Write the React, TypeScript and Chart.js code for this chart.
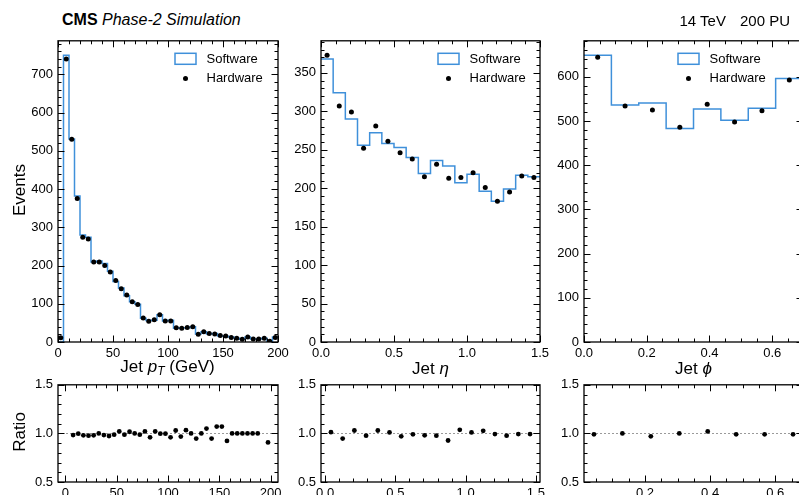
import React, { useEffect, useRef } from "react";
import { Chart, registerables } from "chart.js";

Chart.register(...registerables);

const FONT = "'Liberation Sans', Arial, Helvetica, sans-serif";
const BLUE = "#3f90da";
Chart.defaults.font.family = FONT;

// ---------------- data ----------------
// Jet pT (GeV), 5 GeV bins
const ptEdges = [0, 5, 10, 15, 20, 25, 30, 35, 40, 45, 50, 55, 60, 65, 70, 75, 80, 85, 90, 95, 100,
  105, 110, 115, 120, 125, 130, 135, 140, 145, 150, 155, 160, 165, 170, 175, 180, 185, 190, 195, 200];
const ptSoftware = [0, 750, 531, 382, 280, 274, 209, 212, 205, 185, 158, 141, 121, 105, 99, 62, 56, 57, 71, 55,
  57, 36, 37, 37, 40, 21, 27, 21, 22, 16, 15, 13, 10, 7, 13, 8, 8, 10, 0, 13];
const ptHardware = [11, 740, 530, 375, 274, 269, 209, 209, 200, 183, 161, 139, 123, 105, 98, 63, 54, 58, 71, 55,
  55, 37, 36, 38, 40, 20, 27, 22, 21, 17, 16, 12, 10, 7, 13, 8, 8, 10, 2, 12];
const ptRatio: (number | null)[] = [null, 0.983, 0.997, 0.98, 0.977, 0.98, 1.0, 0.983, 0.973, 0.987, 1.02, 0.987,
  1.017, 1.0, 0.987, 1.02, 0.96, 1.02, 0.997, 0.997, 0.96, 1.03, 0.967, 1.033, 1.0, 0.947, 1.0, 1.05, 0.947,
  1.07, 1.07, 0.923, 1.0, 1.0, 1.0, 1.0, 1.0, 1.0, null, 0.907];

// Jet eta
const etaEdges = [0, 0.0833, 0.1667, 0.25, 0.3333, 0.4167, 0.5, 0.5833, 0.6667, 0.75, 0.8333, 0.9167, 1.0,
  1.0833, 1.1667, 1.25, 1.3333, 1.4167, 1.5];
const etaSoftware = [368, 324, 290, 256, 272, 258, 253, 240, 219, 236, 229, 207, 218, 196, 183, 199, 217, 215];
const etaHardware = [373, 307, 299, 252, 281, 261, 246, 238, 215, 231, 213, 214, 220, 201, 183, 195, 216, 214];
const etaRatio = [1.013, 0.947, 1.03, 0.977, 1.03, 1.01, 0.97, 0.99, 0.98, 0.977, 0.927, 1.037, 1.01, 1.027,
  0.993, 0.977, 0.993, 0.993];

// Jet phi
const phiEdges = [0, 0.0873, 0.1745, 0.2618, 0.3491, 0.4363, 0.5236, 0.6109, 0.6981];
const phiSoftware = [649, 536, 541, 483, 527, 502, 529, 596];
const phiHardware = [644, 534, 525, 486, 538, 498, 523, 593];
const phiRatio = [0.99, 1.0, 0.97, 1.0, 1.02, 0.99, 0.99, 0.99];

// axis ranges / ticks
const ptYMax = 787.5;
const etaYMax = 391.7;
const phiYMax = 681.5;

// ---------------- helpers ----------------
const PAD_L = 52;
const PAD_T = 10;
const PAD_R = 18;
const PAD_B = 26;

function stepPoints(edges: number[], vals: number[]) {
  const pts = vals.map((v, i) => ({ x: edges[i], y: v }));
  pts.push({ x: edges[edges.length - 1], y: vals[vals.length - 1] });
  return pts;
}
function centers(edges: number[]) {
  return edges.slice(0, -1).map((e, i) => (e + edges[i + 1]) / 2);
}
function dotPoints(edges: number[], vals: (number | null)[]) {
  const c = centers(edges);
  return vals
    .map((v, i) => ({ x: c[i], y: v }))
    .filter((p) => p.y !== null) as { x: number; y: number }[];
}
function marginRange(edges: number[]) {
  const c = centers(edges);
  const lo = c[0];
  const hi = c[c.length - 1];
  const m = 0.05 * (hi - lo);
  return [lo - m, hi + m];
}

type Spec = {
  x: number; y: number; w: number; h: number;
  xMin: number; xMax: number; xMajor: number; xMinor: number; xDec: number;
  yMin: number; yMax: number; yMajor: number; yMinor: number; yDec: number;
  datasets: any[];
  legendFromRight?: number;
  refLine?: number;
};

function fmt(v: number, d: number) {
  return d > 0 ? Number(v).toFixed(d) : String(Math.round(v));
}

function makePlugin(s: Spec) {
  return {
    id: "decor",
    beforeDatasetsDraw(chart: any) {
      if (s.refLine === undefined) return;
      const { ctx, chartArea: a, scales } = chart;
      const py = Math.round(scales.y.getPixelForValue(s.refLine)) + 0.5;
      ctx.save();
      ctx.strokeStyle = "#9a9a9a";
      ctx.lineWidth = 1;
      ctx.setLineDash([2, 2]);
      ctx.beginPath();
      ctx.moveTo(a.left, py);
      ctx.lineTo(a.right, py);
      ctx.stroke();
      ctx.restore();
    },
    afterDatasetsDraw(chart: any) {
      const { ctx, chartArea: a, scales } = chart;
      const xs = scales.x;
      const ys = scales.y;
      ctx.save();
      ctx.strokeStyle = "#000";
      ctx.lineWidth = 1;
      const isMajor = (v: number, major: number) => Math.abs(v / major - Math.round(v / major)) < 1e-6;
      // x ticks
      const kx0 = Math.ceil(xs.min / s.xMinor - 1e-9);
      const kx1 = Math.floor(xs.max / s.xMinor + 1e-9);
      for (let k = kx0; k <= kx1; k++) {
        const v = k * s.xMinor;
        const len = isMajor(v, s.xMajor) ? 6.5 : 3.5;
        const px = Math.round(xs.getPixelForValue(v)) + 0.5;
        ctx.beginPath();
        ctx.moveTo(px, a.bottom);
        ctx.lineTo(px, a.bottom - len);
        ctx.moveTo(px, a.top);
        ctx.lineTo(px, a.top + len);
        ctx.stroke();
      }
      const ky0 = Math.ceil(ys.min / s.yMinor - 1e-9);
      const ky1 = Math.floor(ys.max / s.yMinor + 1e-9);
      for (let k = ky0; k <= ky1; k++) {
        const v = k * s.yMinor;
        const len = isMajor(v, s.yMajor) ? 6.5 : 3.5;
        const py = Math.round(ys.getPixelForValue(v)) + 0.5;
        ctx.beginPath();
        ctx.moveTo(a.left, py);
        ctx.lineTo(a.left + len, py);
        ctx.moveTo(a.right, py);
        ctx.lineTo(a.right - len, py);
        ctx.stroke();
      }
      ctx.lineWidth = 1.3;
      ctx.strokeRect(a.left, a.top, a.right - a.left, a.bottom - a.top);
      ctx.restore();
    },
    afterDraw(chart: any) {
      if (s.legendFromRight === undefined) return;
      const { ctx, chartArea: a } = chart;
      const bx = a.right - s.legendFromRight;
      const by = a.top + 12.5;
      ctx.save();
      ctx.strokeStyle = BLUE;
      ctx.lineWidth = 1.5;
      ctx.strokeRect(bx, by, 21, 11);
      ctx.fillStyle = "#000";
      ctx.beginPath();
      ctx.arc(bx + 10.5, a.top + 37.7, 2.5, 0, Math.PI * 2);
      ctx.fill();
      ctx.font = `13px ${FONT}`;
      ctx.textBaseline = "middle";
      ctx.textAlign = "left";
      ctx.fillText("Software", bx + 31.5, a.top + 18.5);
      ctx.fillText("Hardware", bx + 31.5, a.top + 37.7);
      ctx.restore();
    },
  };
}

function Panel({ s }: { s: Spec }) {
  const ref = useRef<HTMLCanvasElement>(null);
  const W = s.w + PAD_L + PAD_R;
  const H = s.h + PAD_T + PAD_B;
  useEffect(() => {
    if (!ref.current) return;
    const chart = new Chart(ref.current, {
      type: "scatter",
      data: { datasets: s.datasets },
      options: {
        animation: false,
        responsive: false,
        maintainAspectRatio: false,
        devicePixelRatio: 1,
        layout: { padding: { left: 0, top: PAD_T, right: PAD_R, bottom: 0 } },
        plugins: { legend: { display: false }, tooltip: { enabled: false } },
        scales: {
          x: {
            type: "linear",
            min: s.xMin,
            max: s.xMax,
            grid: { display: false, drawTicks: false },
            border: { display: false },
            ticks: {
              stepSize: s.xMajor,
              includeBounds: false,
              autoSkip: false,
              maxRotation: 0,
              padding: 4,
              color: "#000",
              font: { size: 13, family: FONT },
              callback: (v: any) => fmt(v, s.xDec),
            },
            afterFit: (sc: any) => { sc.height = PAD_B; },
          },
          y: {
            type: "linear",
            min: s.yMin,
            max: s.yMax,
            grid: { display: false, drawTicks: false },
            border: { display: false },
            ticks: {
              stepSize: s.yMajor,
              includeBounds: false,
              autoSkip: false,
              padding: 5,
              color: "#000",
              font: { size: 13, family: FONT },
              callback: (v: any) => fmt(v, s.yDec),
            },
            afterFit: (sc: any) => { sc.width = PAD_L; },
          },
        },
      } as any,
      plugins: [makePlugin(s)],
    });
    return () => chart.destroy();
  }, []);
  return (
    <canvas
      ref={ref}
      width={W}
      height={H}
      style={{ position: "absolute", left: s.x - PAD_L, top: s.y - PAD_T, width: W, height: H }}
    />
  );
}

function histDatasets(edges: number[], sw: number[], hw: number[]) {
  return [
    {
      label: "Hardware",
      data: dotPoints(edges, hw),
      pointRadius: 2.5,
      pointBackgroundColor: "#000",
      pointBorderWidth: 0,
      showLine: false,
    },
    {
      type: "line",
      label: "Software",
      data: stepPoints(edges, sw),
      stepped: "before",
      borderColor: BLUE,
      borderWidth: 1.5,
      pointRadius: 0,
      fill: false,
      showLine: true,
    },
  ];
}
function ratioDatasets(edges: number[], r: (number | null)[]) {
  return [
    {
      label: "Ratio",
      data: dotPoints(edges, r),
      pointRadius: 2.4,
      pointBackgroundColor: "#000",
      pointBorderWidth: 0,
      showLine: false,
    },
  ];
}

const MAIN_TOP = 38;
const MAIN_H = 304;
const RAT_TOP = 382;
const RAT_H = 100;
const COLS = [58, 321, 584];
const PW = 219;

const ptR = marginRange(ptEdges);
const etaR = marginRange(etaEdges);
const phiR = marginRange(phiEdges);

const specs: Spec[] = [
  { x: COLS[0], y: MAIN_TOP, w: PW + 1, h: MAIN_H, xMin: 0, xMax: 200, xMajor: 50, xMinor: 10, xDec: 0,
    yMin: 0, yMax: ptYMax, yMajor: 100, yMinor: 20, yDec: 0,
    datasets: histDatasets(ptEdges, ptSoftware, ptHardware), legendFromRight: 103 },
  { x: COLS[1], y: MAIN_TOP, w: PW, h: MAIN_H, xMin: 0, xMax: 1.5, xMajor: 0.5, xMinor: 0.1, xDec: 1,
    yMin: 0, yMax: etaYMax, yMajor: 50, yMinor: 10, yDec: 0,
    datasets: histDatasets(etaEdges, etaSoftware, etaHardware), legendFromRight: 102 },
  { x: COLS[2], y: MAIN_TOP, w: PW, h: MAIN_H, xMin: 0, xMax: phiEdges[phiEdges.length - 1], xMajor: 0.2, xMinor: 0.05, xDec: 1,
    yMin: 0, yMax: phiYMax, yMajor: 100, yMinor: 20, yDec: 0,
    datasets: histDatasets(phiEdges, phiSoftware, phiHardware), legendFromRight: 125 },
  { x: COLS[0], y: RAT_TOP, w: PW + 1, h: RAT_H, xMin: ptR[0], xMax: ptR[1], xMajor: 50, xMinor: 10, xDec: 0,
    yMin: 0.5, yMax: 1.5, yMajor: 0.5, yMinor: 0.1, yDec: 1,
    datasets: ratioDatasets(ptEdges, ptRatio), refLine: 1 },
  { x: COLS[1], y: RAT_TOP, w: PW, h: RAT_H, xMin: etaR[0], xMax: etaR[1], xMajor: 0.5, xMinor: 0.1, xDec: 1,
    yMin: 0.5, yMax: 1.5, yMajor: 0.5, yMinor: 0.1, yDec: 1,
    datasets: ratioDatasets(etaEdges, etaRatio), refLine: 1 },
  { x: COLS[2], y: RAT_TOP, w: PW, h: RAT_H, xMin: phiR[0], xMax: phiR[1], xMajor: 0.2, xMinor: 0.05, xDec: 1,
    yMin: 0.5, yMax: 1.5, yMajor: 0.5, yMinor: 0.1, yDec: 1,
    datasets: ratioDatasets(phiEdges, phiRatio), refLine: 1 },
];

const labelStyle: React.CSSProperties = {
  position: "absolute",
  fontSize: 17,
  lineHeight: "20px",
  whiteSpace: "nowrap",
  color: "#000",
  transform: "translate(-50%, -50%)",
};

export default function App() {
  return (
    <div
      style={{
        position: "fixed",
        left: 0,
        top: 0,
        width: 799,
        height: 495,
        overflow: "hidden",
        background: "#fff",
        fontFamily: FONT,
      }}
    >
      {specs.map((s, i) => (
        <Panel key={i} s={s} />
      ))}
      <div style={{ position: "absolute", left: 62, top: 12, fontSize: 16, lineHeight: "16px", whiteSpace: "nowrap" }}>
        <b>CMS</b> <i>Phase-2 Simulation</i>
      </div>
      <div style={{ position: "absolute", right: 9, top: 13, fontSize: 15, lineHeight: "15px", whiteSpace: "nowrap" }}>
        14 TeV<span style={{ marginLeft: 14 }}>200 PU</span>
      </div>
      <div style={{ ...labelStyle, left: 20, top: MAIN_TOP + MAIN_H / 2, transform: "translate(-50%, -50%) rotate(-90deg)" }}>
        Events
      </div>
      <div style={{ ...labelStyle, left: 20, top: RAT_TOP + RAT_H / 2, transform: "translate(-50%, -50%) rotate(-90deg)" }}>
        Ratio
      </div>
      <div style={{ ...labelStyle, left: COLS[0] + PW / 2, top: 369 }}>
        Jet <i>p</i>
        <sub style={{ fontSize: 12, verticalAlign: "-3px" }}>
          <i>T</i>
        </sub>{" "}
        (GeV)
      </div>
      <div style={{ ...labelStyle, left: COLS[1] + PW / 2, top: 369 }}>
        Jet <i>η</i>
      </div>
      <div style={{ ...labelStyle, left: COLS[2] + PW / 2, top: 369 }}>
        Jet <i>ϕ</i>
      </div>
    </div>
  );
}
